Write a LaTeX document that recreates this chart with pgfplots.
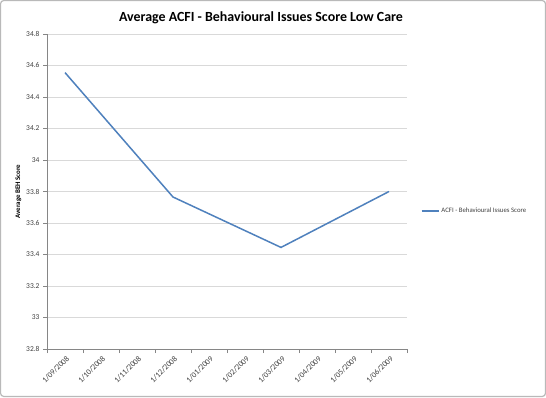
\documentclass[border=0pt]{standalone}
\usepackage{pgfplots}
\pgfplotsset{compat=1.18}
\usepackage{fontspec}
\setmainfont{Carlito}
\definecolor{serblue}{HTML}{4F81BD}
\definecolor{gridgray}{HTML}{D9D9D9}
\definecolor{axgray}{HTML}{868686}
\definecolor{txtgray}{HTML}{404040}
\begin{document}
\begin{tikzpicture}[x=1bp,y=1bp]
\draw[draw=gray!55, line width=1.2bp, rounded corners=3bp, fill=white] (0.6,0.6) rectangle (545.4,396.4);
\node[font=\bfseries\fontsize{14}{16}\selectfont] at (261,379) {Average ACFI - Behavioural Issues Score Low Care};
\begin{axis}[
  at={(47bp,48bp)}, anchor=south west,
  scale only axis, width=360bp, height=315bp,
  xmin=-0.5, xmax=9.5, ymin=32.8, ymax=34.8,
  ytick={32.8,33,...,34.8},
  yticklabels={32.8,33,33.2,33.4,33.6,33.8,34,34.2,34.4,34.6,34.8},
  xtick={0,...,9},
  xticklabels={1/09/2008,1/10/2008,1/11/2008,1/12/2008,1/01/2009,1/02/2009,1/03/2009,1/04/2009,1/05/2009,1/06/2009},
  major x tick style={draw=none},
  minor xtick={-0.5,0.5,...,9.5},
  minor x tick style={draw=axgray},
  minor tick length=4bp,
  major tick length=4bp,
  tick align=outside,
  ytick style={draw=axgray},
  xticklabel style={rotate=45, anchor=north east, font=\fontsize{8}{9}\selectfont, text=txtgray, inner sep=1bp, yshift=-1bp},
  yticklabel style={font=\fontsize{7.5}{9}\selectfont, text=txtgray},
  /pgf/number format/assume math mode=true,
  axis x line*=bottom, axis y line*=left,
  axis line style={draw=axgray},
  x axis line style={-}, y axis line style={-},
  ymajorgrids, grid style={draw=gridgray, line width=0.6bp},
  ylabel={Average BEH Score},
  ylabel style={font=\bfseries\fontsize{7}{8}\selectfont},
  ylabel shift=-2bp,
  legend style={at={(1.03,0.438)}, anchor=west, draw=none, font=\fontsize{6.8}{8}\selectfont, text=txtgray, fill=none},
  legend cell align=left,
  legend image post style={line width=1.5bp},
]
\addplot[serblue, line width=1.5bp, mark=none] coordinates {(0,34.555) (3,33.765) (6,33.445) (9,33.8)};
\addlegendentry{ACFI - Behavioural Issues Score}
\end{axis}
\end{tikzpicture}
\end{document}
